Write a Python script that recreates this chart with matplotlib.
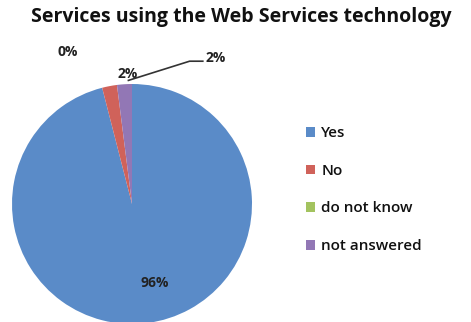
import matplotlib
matplotlib.use("Agg")
import matplotlib.pyplot as plt
import numpy as np

categories = ["Yes", "No", "do not know", "not answered"]
values = [96, 2, 0, 2]
pct_labels = ["96%", "2%", "0%", "2%"]
colors = ["#5A8BC8", "#D0625A", "#A3C35F", "#9277B5"]

plt.rcParams['font.family'] = ['Open Sans', 'DejaVu Sans']

W, H = 471, 322
fig = plt.figure(figsize=(W / 100, H / 100), dpi=100)
cx, cy, r = 132, 204, 120
ax = fig.add_axes([(cx - r) / W, (H - cy - r) / H, 2 * r / W, 2 * r / H])
wedges, _ = ax.pie(values, colors=colors, startangle=90, counterclock=False,
                   radius=1, wedgeprops=dict(linewidth=0))
ax.set_xlim(-1, 1)
ax.set_ylim(-1, 1)
ax.set_aspect('equal')
ax.axis('off')

lab_pos = [(0.19, -0.66), (-0.04, 1.08), (-0.54, 1.27), (0.70, 1.22)]
for (x, y), t in zip(lab_pos, pct_labels):
    ax.text(x, y, t, ha='center', va='center', fontsize=10, fontweight='bold',
            color='#222222', clip_on=False)

# leader line for "not answered"
ax.plot([0.59, 0.48, -0.03], [1.19, 1.19, 1.03], color='#333333', lw=1.2,
        clip_on=False)

fig.text(241 / W, 1 - 17 / H, "Services using the Web Services technology",
         ha='center', va='center', fontsize=14, fontweight='bold', color='#111111')

leg = fig.legend(wedges, categories, loc='upper left',
                 bbox_to_anchor=(300 / W, 1 - 120 / H), frameon=False,
                 prop=dict(size=11, weight='semibold'),
                 handlelength=0.6, handleheight=0.6,
                 handletextpad=0.4, labelspacing=1.55, borderaxespad=0)
for t in leg.get_texts():
    t.set_color('#111111')

fig.savefig("out.png", dpi=100)
